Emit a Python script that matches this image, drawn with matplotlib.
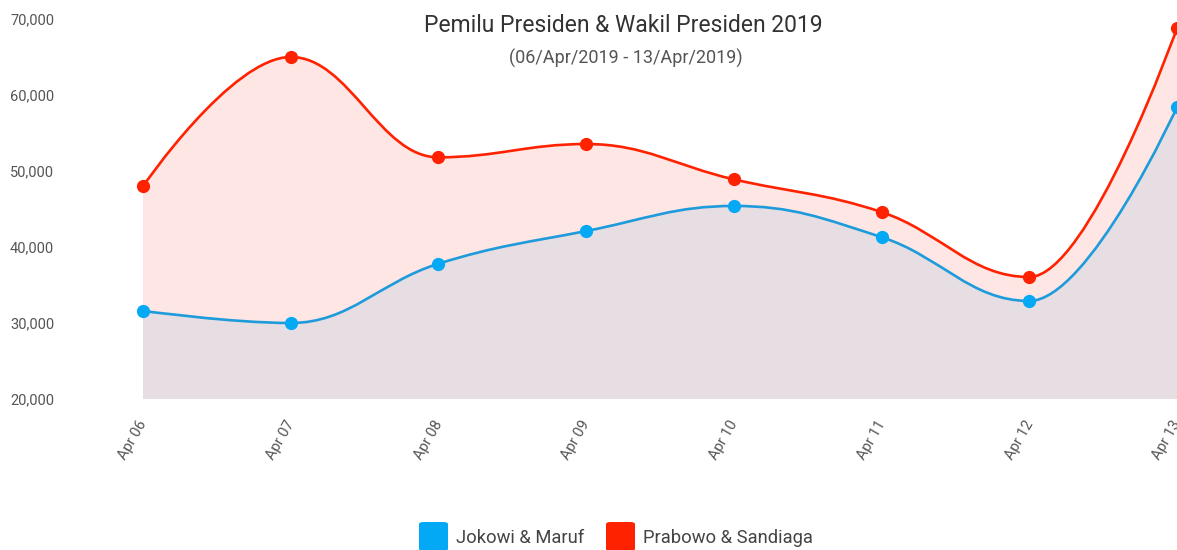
import numpy as np
import matplotlib
matplotlib.use("Agg")
import matplotlib.pyplot as plt
import matplotlib.transforms as mtransforms
from matplotlib.path import Path
from matplotlib.patches import PathPatch, FancyBboxPatch
from matplotlib.ticker import FuncFormatter

plt.rcParams["font.family"] = ["Roboto", "DejaVu Sans"]

# --- Data ---
dates = ["Apr 06", "Apr 07", "Apr 08", "Apr 09", "Apr 10", "Apr 11", "Apr 12", "Apr 13"]
jokowi = [31600, 30000, 37800, 42100, 45400, 41300, 32900, 58400]
prabowo = [48000, 65000, 51800, 53550, 48900, 44600, 36050, 68800]

title = "Pemilu Presiden & Wakil Presiden 2019"
subtitle = "(06/Apr/2019 - 13/Apr/2019)"
series_names = ["Jokowi & Maruf", "Prabowo & Sandiaga"]

# --- Colours ---
blue_marker = "#03A9F4"
blue_line = "#1E9BDA"
blue_fill = "#E6DEE3"
red_marker = "#FF2200"
red_line = "#FF2200"
red_fill = "#FEE6E4"
y_base = 20000


# --- Spline path (Highcharts-style smoothing) ---
def spline_verts(xs, ys, smoothing=1.5):
    n = len(xs)
    denom = smoothing + 1
    left = [None] * n
    right = [None] * n
    for i in range(1, n - 1):
        x, y = xs[i], ys[i]
        lx, ly = xs[i - 1], ys[i - 1]
        nx, ny = xs[i + 1], ys[i + 1]
        lcx = (smoothing * x + lx) / denom
        lcy = (smoothing * y + ly) / denom
        rcx = (smoothing * x + nx) / denom
        rcy = (smoothing * y + ny) / denom
        corr = (rcy - lcy) * (rcx - x) / (rcx - lcx) + y - rcy
        lcy += corr
        rcy += corr
        if lcy > ly and lcy > y:
            lcy = max(ly, y)
            rcy = 2 * y - lcy
        elif lcy < ly and lcy < y:
            lcy = min(ly, y)
            rcy = 2 * y - lcy
        if rcy > ny and rcy > y:
            rcy = max(ny, y)
            lcy = 2 * y - rcy
        elif rcy < ny and rcy < y:
            rcy = min(ny, y)
            lcy = 2 * y - rcy
        left[i] = (lcx, lcy)
        right[i] = (rcx, rcy)
    verts = [(xs[0], ys[0])]
    codes = [Path.MOVETO]
    for i in range(1, n):
        c1 = right[i - 1] if right[i - 1] is not None else (xs[i - 1], ys[i - 1])
        c2 = left[i] if left[i] is not None else (xs[i], ys[i])
        verts += [c1, c2, (xs[i], ys[i])]
        codes += [Path.CURVE4] * 3
    return verts, codes


fig = plt.figure(figsize=(11.77, 5.5), dpi=100)
ax = fig.add_axes([143 / 1177, 1 - 399 / 550, 1 - 143 / 1177, 380 / 550])

x = np.arange(len(dates))

for vals, fill_c, line_c, mark_c, z in [
    (prabowo, red_fill, red_line, red_marker, 1),
    (jokowi, blue_fill, blue_line, blue_marker, 2),
]:
    verts, codes = spline_verts(list(x), list(vals))
    # filled area down to the baseline
    fverts = verts + [(x[-1], y_base), (x[0], y_base), verts[0]]
    fcodes = codes + [Path.LINETO, Path.LINETO, Path.CLOSEPOLY]
    ax.add_patch(PathPatch(Path(fverts, fcodes), facecolor=fill_c, edgecolor="none", zorder=z))
    ax.add_patch(PathPatch(Path(verts, codes), facecolor="none", edgecolor=line_c, lw=1.9, zorder=4))
    ax.plot(x, vals, "o", color=mark_c, markersize=8.5, zorder=5, clip_on=False)

ax.set_xlim(0, len(dates) - 1)
ax.set_ylim(20000, 70000)
ax.set_yticks(np.arange(20000, 70001, 10000))
ax.yaxis.set_major_formatter(FuncFormatter(lambda v, p: f"{int(v):,}"))
ax.set_xticks(x)
ax.set_xticklabels(dates, rotation=60, ha="right", va="top", rotation_mode="anchor")
ax.tick_params(axis="y", length=0, pad=64, labelsize=10.5, labelcolor="#555555")
ax.tick_params(axis="x", length=0, pad=14, labelsize=10.5, labelcolor="#555555")
shift = mtransforms.ScaledTranslation(-4 / 72, 0, fig.dpi_scale_trans)
for lab in ax.get_xticklabels():
    lab.set_transform(lab.get_transform() + shift)
for s in ax.spines.values():
    s.set_visible(False)
ax.set_facecolor("none")

# --- Titles ---
fig.text(623 / 1177, 1 - 26 / 550, title, ha="center", va="center", fontsize=16.5, color="#333333")
fig.text(626 / 1177, 1 - 58 / 550, subtitle, ha="center", va="center", fontsize=13, color="#555555")

# --- Legend (drawn manually) ---
leg_items = [(419, series_names[0], blue_marker), (606, series_names[1], red_marker)]
for px, name, c in leg_items:
    fig.patches.append(FancyBboxPatch((px / 1177, 1 - 551 / 550), 29 / 1177, 29 / 550,
                                      boxstyle="round,pad=0,rounding_size=0.004",
                                      transform=fig.transFigure, facecolor=c, edgecolor="none"))
    fig.text((px + 37) / 1177, 1 - 538 / 550, name, ha="left", va="center", fontsize=13.2, color="#444444")

fig.savefig("out.png", dpi=100)
